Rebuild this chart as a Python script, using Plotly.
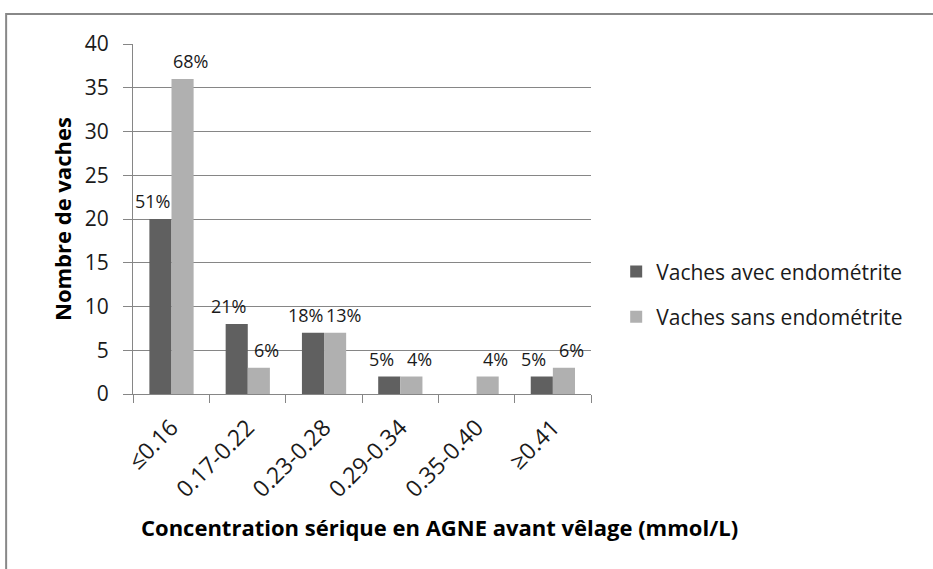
import plotly.graph_objects as go

# Serum NEFA classes before calving (mmol/L)
categories = ["≤0.16", "0.17-0.22", "0.23-0.28", "0.29-0.34", "0.35-0.40", "≥0.41"]

# Number of cows per class
avec_endometrite = [20, 8, 7, 2, 0, 2]
sans_endometrite = [36, 3, 7, 2, 2, 3]

# Share of each group, shown above the bars
avec_pct = ["51%", "21%", "18%", "5%", "", "5%"]
sans_pct = ["68%", "6%", "13%", "4%", "4%", "6%"]

FONT = "Open Sans"
GRID = "#868686"
TEXT = "#1a1a1a"
LABEL_SIZE = 18
BAR_HALF = 11      # half of one bar's width in pixels
LABEL_PUSH = 8     # extra spread so neighbouring labels do not collide

fig = go.Figure()
fig.add_trace(go.Bar(
    x=categories, y=avec_endometrite, name="Vaches avec endométrite",
    legendgroup="avec", marker=dict(color="#606060", line=dict(width=0)),
))
fig.add_trace(go.Bar(
    x=categories, y=sans_endometrite, name="Vaches sans endométrite",
    legendgroup="sans", marker=dict(color="#b0b0b0", line=dict(width=0)),
))

# Percentage labels sitting above each bar
annotations = []
for values, labels, side in ((avec_endometrite, avec_pct, -1), (sans_endometrite, sans_pct, 1)):
    for cat, val, lab in zip(categories, values, labels):
        if not lab:
            continue
        annotations.append(dict(
            x=cat, y=val, xref="x", yref="y", text=lab, showarrow=False,
            xanchor="center", yanchor="bottom",
            xshift=side * (BAR_HALF + LABEL_PUSH), yshift=4,
            font=dict(family=FONT, size=LABEL_SIZE, color=TEXT),
        ))

annotations += [
    dict(text="<b>Nombre de vaches</b>", x=-0.155, y=0.5, xref="paper", yref="paper",
         textangle=-90, showarrow=False, xanchor="center", yanchor="middle",
         font=dict(family=FONT, size=22, color="#000000")),
    dict(text="<b>Concentration sérique en AGNE avant vêlage (mmol/L)</b>",
         x=0.670, y=-0.38, xref="paper", yref="paper", showarrow=False,
         xanchor="center", yanchor="middle",
         font=dict(family=FONT, size=22, color="#000000")),
]

fig.update_layout(
    width=933, height=569,
    margin=dict(l=133, r=342, t=44, b=175),
    paper_bgcolor="white", plot_bgcolor="white",
    barmode="group", bargap=0.42, bargroupgap=0,
    font=dict(family=FONT, color=TEXT),
    showlegend=True,
    legend=dict(
        x=1.055, y=0.285, xanchor="left", yanchor="middle",
        font=dict(family=FONT, size=21, color=TEXT),
        traceorder="grouped", itemwidth=30, tracegroupgap=15,
        bgcolor="rgba(0,0,0,0)",
    ),
    xaxis=dict(
        type="category", showgrid=False, tickson="boundaries",
        ticks="outside", ticklen=8, tickcolor=GRID, ticklabelstandoff=10,
        showline=True, linecolor=GRID, linewidth=1,
        tickangle=-45, tickfont=dict(family=FONT, size=23, color=TEXT),
    ),
    yaxis=dict(
        range=[0, 40], dtick=5, showgrid=True, gridcolor=GRID, gridwidth=1,
        ticks="outside", ticklen=9, tickcolor=GRID, ticklabelstandoff=10,
        showline=True, linecolor=GRID, linewidth=1, zeroline=False,
        tickfont=dict(family=FONT, size=21, color=TEXT),
    ),
    annotations=annotations,
    shapes=[
        dict(type="rect", xref="paper", yref="paper",
             x0=-0.277, x1=1.75, y0=-0.6, y1=1.0857,
             line=dict(color="#888888", width=2), fillcolor="rgba(0,0,0,0)",
             layer="below"),
    ],
)

fig.write_html("out.html")
